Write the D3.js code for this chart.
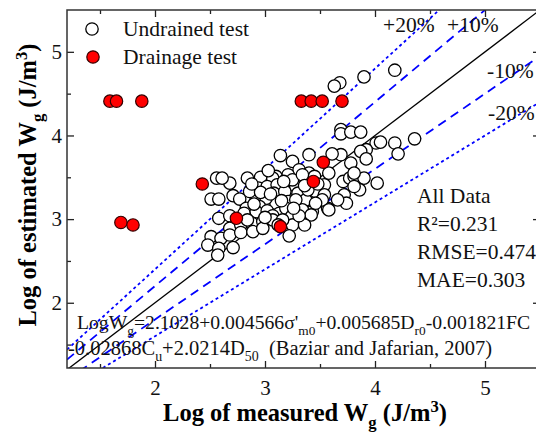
<!DOCTYPE html>
<html>
<head>
<meta charset="UTF-8">
<style>
  body { margin: 0; background: #fff; }
  text { font-family: "Liberation Serif", "Times New Roman", serif; }
</style>
</head>
<body>
<svg width="536" height="436"></svg>
<script src="https://cdn.jsdelivr.net/npm/d3@7"></script>
<script>

// measured vs estimated log Wg
var undrained = [
  [4.18,4.78],[3.90,4.70],[3.68,4.63],[3.63,4.59],
  [3.69,4.07],[3.69,4.02],[3.78,4.04],[3.87,4.04],[4.01,3.91],[4.05,3.92],[4.18,3.91],[4.36,3.96],
  [4.21,3.78],[3.92,3.83],[3.87,3.81],[3.92,3.72],[3.78,3.67],[3.69,3.77],[3.61,3.78],[3.40,3.77],
  [3.14,3.76],[3.25,3.69],[3.31,3.59],[3.40,3.55],[3.45,3.51],[3.34,3.45],[3.21,3.53],[3.10,3.51],
  [3.07,3.49],[2.96,3.50],[2.84,3.49],[2.68,3.43],[2.56,3.49],[2.61,3.49],[2.94,3.37],[3.02,3.39],
  [3.11,3.41],[3.22,3.37],[3.31,3.35],[3.28,3.39],[3.54,3.41],[3.71,3.45],[3.77,3.49],[3.81,3.51],
  [3.90,3.49],[4.02,3.43],[3.86,3.35],[3.81,3.55],[3.81,3.39],[3.08,3.31],[3.18,3.33],[3.30,3.31],
  [3.46,3.33],[3.54,3.29],[3.72,3.29],[3.74,3.19],[3.57,3.13],[3.52,3.23],[3.43,3.09],[3.10,3.19],
  [3.21,3.21],[3.37,3.23],[3.46,3.19],[3.13,3.07],[3.22,3.09],[3.34,3.11],[3.42,3.05],[2.51,3.24],
  [2.58,3.24],[2.71,3.28],[2.77,3.24],[2.92,3.24],[3.01,3.25],[2.83,3.13],[2.95,3.15],[3.19,3.13],
  [2.58,3.01],[2.68,3.04],[2.81,3.07],[2.92,3.09],[3.02,3.10],[3.07,3.04],[3.24,3.03],[2.68,2.89],
  [2.78,2.93],[2.88,2.95],[2.98,2.97],[3.07,2.99],[3.25,2.93],[3.36,2.93],[2.51,2.79],[2.60,2.77],
  [2.68,2.81],[2.78,2.84],[2.89,2.85],[2.98,2.89],[3.22,2.80],[2.48,2.69],[2.58,2.65],[2.71,2.66],
  [2.57,2.57],[3.58,3.11],[3.25,3.47],[3.34,3.53],[2.86,3.33],[2.96,3.32],[3.39,3.35],[3.66,3.23],
  [3.31,3.04],[3.16,2.99],[2.84,2.99],[3.28,3.23],[3.05,3.30],[3.15,3.22],[3.26,3.13],[2.90,3.18],
  [3.00,3.02],[3.12,2.93],[3.36,3.40],[3.48,3.42],[3.58,3.55],[3.03,3.58],[2.88,3.42],[3.17,3.45]
];

var drainage = [
  [1.59,4.41],[1.65,4.41],[1.88,4.41],[1.69,2.96],[1.80,2.93],[2.43,3.42],[2.74,3.01],
  [3.14,2.91],[3.33,4.41],[3.42,4.41],[3.52,4.41],[3.70,4.41],[3.53,3.68],[3.44,3.45]
];

var ratios = [1.2, 1.1, 1.0, 0.9, 0.8];
var ratioLabels = ["+20%", "+10%", "", "-10%", "-20%"];

var majorTicks = [2, 3, 4, 5];
var minorTicks = [1.5, 2.5, 3.5, 4.5, 5.5];

var legendLabels = ["Undrained test", "Drainage test"];
var statsLines = ["All Data", "R\u00b2=0.231", "RMSE=0.474", "MAE=0.303"];

var formula1 = [["LogW",""],["g","sub"],["=2.1028+0.004566\u03c3'",""],["m0","sub"],
  ["+0.005685D",""],["r0","sub"],["-0.001821FC",""]];
var formula2 = [["-0.02868C",""],["u","sub"],["+2.0214D",""],["50","sub"],
  ["  (Baziar and Jafarian, 2007)",""]];

var xTitle = [["Log of measured W",""],["g","sub"],[" (J/m",""],["3","sup"],[")",""]];
var yTitle = [["Log of estimated W",""],["g","sub"],[" (J/m",""],["3","sup"],[")",""]];

var svg = d3.select("svg"),
  pLeft = 67, pRight = 540, pTop = 10, pBottom = 368;

var x = d3.scaleLinear().domain([1.2, 5.5]).range([pLeft, pRight]);
var y = d3.scaleLinear().domain([1.22, 5.5]).range([pBottom, pTop]);

// text with sub/superscripts
function rich(sel, parts, size) {
  var shift = 0;
  parts.forEach(function(p) {
    var to = p[1] == "sub" ? size * 0.3 : p[1] == "sup" ? -size * 0.38 : 0;
    var t = sel.append("tspan").text(p[0]).attr("dy", to - shift);
    if (p[1]) t.attr("font-size", size * 0.68);
    shift = to;
  });
}

svg.append("clipPath").attr("id", "plot")
  .append("rect").attr("x", pLeft).attr("y", pTop)
  .attr("width", pRight - pLeft).attr("height", pBottom - pTop);

// reference lines
var line = d3.line()
  .x(function(d) { return x(d[0]); })
  .y(function(d) { return y(d[1]); });

svg.append("g").attr("clip-path", "url(#plot)")
  .selectAll("path")
  .data(ratios)
  .enter().append("path")
    .attr("fill", "none")
    .attr("stroke", function(k) { return k == 1 ? "#000" : "#0000ff"; })
    .attr("stroke-width", function(k) { return k == 1 ? 1.3 : 1.8; })
    .attr("stroke-dasharray", function(k) {
      if (k == 1) return null;
      return Math.abs(k - 1) > 0.15 ? "3,3" : "9,6";
    })
    .attr("d", function(k) { return line([[1.2, 1.2 * k], [5.5, 5.5 * k]]); });

// points
svg.append("g").selectAll("circle")
  .data(undrained)
  .enter().append("circle")
    .attr("cx", function(d) { return x(d[0]); })
    .attr("cy", function(d) { return y(d[1]); })
    .attr("r", 6.2)
    .attr("fill", "#fff")
    .attr("stroke", "#000")
    .attr("stroke-width", 1.3);

svg.append("g").selectAll("circle")
  .data(drainage)
  .enter().append("circle")
    .attr("cx", function(d) { return x(d[0]); })
    .attr("cy", function(d) { return y(d[1]); })
    .attr("r", 6.2)
    .attr("fill", "#ff0000")
    .attr("stroke", "#300")
    .attr("stroke-width", 1.2);

// axes, ticks pointing inward on all four sides
function styleAxis(g) {
  g.select(".domain").remove();
  g.selectAll("line").attr("stroke", "#222").attr("stroke-width", 1.3);
  g.selectAll("text").attr("font-family", "Liberation Serif").attr("font-size", 21).attr("fill", "#111");
}

svg.append("g").attr("transform", "translate(0," + pBottom + ")")
  .call(d3.axisBottom(x).tickValues(majorTicks).tickSize(-7).tickPadding(12).tickFormat(d3.format("d")))
  .call(styleAxis);
svg.append("g").attr("transform", "translate(0," + pBottom + ")")
  .call(d3.axisBottom(x).tickValues(minorTicks).tickSize(-4).tickFormat(""))
  .call(styleAxis);
svg.append("g").attr("transform", "translate(0," + pTop + ")")
  .call(d3.axisTop(x).tickValues(majorTicks).tickSize(-7).tickFormat(""))
  .call(styleAxis);
svg.append("g").attr("transform", "translate(0," + pTop + ")")
  .call(d3.axisTop(x).tickValues(minorTicks).tickSize(-4).tickFormat(""))
  .call(styleAxis);

svg.append("g").attr("transform", "translate(" + pLeft + ",0)")
  .call(d3.axisLeft(y).tickValues(majorTicks).tickSize(-7).tickPadding(5).tickFormat(d3.format("d")))
  .call(styleAxis);
svg.append("g").attr("transform", "translate(" + pLeft + ",0)")
  .call(d3.axisLeft(y).tickValues([1.5, 2.5, 3.5, 4.5]).tickSize(-4).tickFormat(""))
  .call(styleAxis);
svg.append("g").attr("transform", "translate(" + pRight + ",0)")
  .call(d3.axisRight(y).tickValues(majorTicks).tickSize(-7).tickFormat(""))
  .call(styleAxis);
svg.append("g").attr("transform", "translate(" + pRight + ",0)")
  .call(d3.axisRight(y).tickValues([1.5, 2.5, 3.5, 4.5]).tickSize(-4).tickFormat(""))
  .call(styleAxis);

svg.append("rect")
  .attr("x", pLeft).attr("y", pTop)
  .attr("width", pRight - pLeft).attr("height", pBottom - pTop)
  .attr("fill", "none").attr("stroke", "#333").attr("stroke-width", 1.5);

// axis titles
rich(svg.append("text")
  .attr("x", 305).attr("y", 421)
  .attr("text-anchor", "middle").attr("font-weight", "bold").attr("font-size", 24.5),
  xTitle, 24.5);

rich(svg.append("text")
  .attr("transform", "translate(36,185) rotate(-90)")
  .attr("text-anchor", "middle").attr("font-weight", "bold").attr("font-size", 24.5),
  yTitle, 24.5);

// legend
var legend = svg.append("g");
legend.append("circle").attr("cx", 92).attr("cy", 29).attr("r", 6.2)
  .attr("fill", "#fff").attr("stroke", "#000").attr("stroke-width", 1.3);
legend.append("circle").attr("cx", 93).attr("cy", 57).attr("r", 6.2)
  .attr("fill", "#ff0000").attr("stroke", "#300").attr("stroke-width", 1.2);
legend.selectAll("text")
  .data(legendLabels)
  .enter().append("text")
    .attr("x", 123)
    .attr("y", function(d, i) { return 36 + i * 28; })
    .attr("font-size", 21.5)
    .attr("fill", "#111")
    .text(function(d) { return d; });

// band labels
var labelPos = [[383, 32], [447, 32], null, [487, 78], [488, 120]];
svg.append("g").selectAll("text")
  .data(ratioLabels)
  .enter().filter(function(d) { return d != ""; }).append("text")
    .attr("x", function(d) { return labelPos[ratioLabels.indexOf(d)][0]; })
    .attr("y", function(d) { return labelPos[ratioLabels.indexOf(d)][1]; })
    .attr("font-size", 21.5)
    .attr("fill", "#111")
    .text(function(d) { return d; });

// statistics
svg.append("g").selectAll("text")
  .data(statsLines)
  .enter().append("text")
    .attr("x", 417)
    .attr("y", function(d, i) { return 203 + i * 28; })
    .attr("font-size", 21.5)
    .attr("fill", "#111")
    .text(function(d) { return d; });

// regression formula
rich(svg.append("text").attr("x", 77).attr("y", 329)
  .attr("font-size", 19.7).attr("fill", "#111").style("white-space", "pre"), formula1, 19.7);
rich(svg.append("text").attr("x", 68).attr("y", 355)
  .attr("font-size", 20.5).attr("fill", "#111").style("white-space", "pre"), formula2, 20.5);

</script>
</body>
</html>
